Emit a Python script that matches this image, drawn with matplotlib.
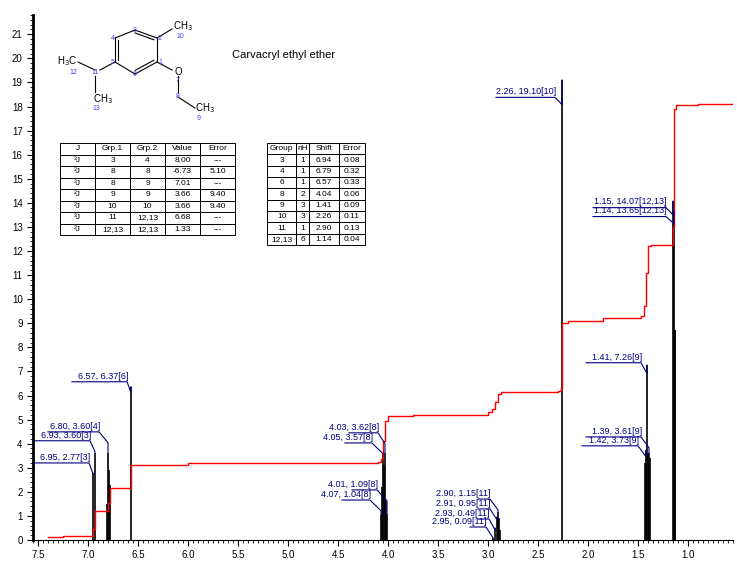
import matplotlib
matplotlib.use("Agg")
import matplotlib.pyplot as plt
import numpy as np
from matplotlib.ticker import MultipleLocator

plt.rcParams['font.family'] = ['Liberation Sans', 'DejaVu Sans']

# Peak lists (shift ppm, intensity)
peak_shift = [6.95, 6.93, 6.81, 6.80, 6.79, 6.78, 6.57,
              4.07, 4.06, 4.05, 4.04, 4.03, 4.02, 4.01,
              2.95, 2.93, 2.91, 2.90, 2.89, 2.88, 2.26,
              1.43, 1.42, 1.41, 1.40, 1.39, 1.38,
              1.15, 1.145, 1.14, 1.135, 1.13]
peak_int = [2.77, 3.60, 1.5, 3.60, 2.9, 2.3, 6.37,
            1.04, 2.2, 3.57, 3.1, 3.62, 1.6, 1.09,
            0.09, 0.49, 0.95, 1.15, 0.9, 0.4, 19.10,
            3.2, 3.73, 7.26, 3.6, 3.61, 3.4,
            14.07, 8.7, 13.65, 8.7, 8.7]

# Integral curve (shift, cumulative value)
int_x = [7.40, 7.25, 6.97, 6.95, 6.93, 6.82, 6.80, 6.78, 6.59, 6.57, 6.00, 4.10, 4.07, 4.05, 4.03, 4.00,
         3.75, 3.00, 2.96, 2.93, 2.90, 2.87, 2.30, 2.27, 2.26, 2.20, 1.85, 1.47, 1.44, 1.42, 1.40, 1.37,
         1.16, 1.15, 1.14, 1.12, 0.90, 0.55]
int_y = [0.12, 0.15, 0.17, 0.45, 1.20, 1.20, 1.55, 2.15, 2.15, 3.10, 3.20, 3.25, 3.35, 4.10, 4.95, 5.15,
         5.20, 5.30, 5.45, 5.75, 6.05, 6.15, 6.20, 6.30, 9.00, 9.10, 9.20, 9.30, 9.70, 11.10, 12.20, 12.25,
         12.25, 13.00, 17.90, 18.05, 18.10, 18.15]

# Labels: text, peak shift, peak height, underline y, underline x-left, x-right (ppm)
labels = [
    ("6.57, 6.37[6]", 6.57, 6.37, 6.57, 7.16, 6.61),
    ("6.80, 3.60[4]", 6.80, 3.60, 4.49, 7.40, 6.89),
    ("6.93, 3.60[3]", 6.93, 3.60, 4.12, 7.55, 6.98),
    ("6.95, 2.77[3]", 6.95, 2.77, 3.20, 7.55, 6.99),
    ("4.03, 3.62[8]", 4.03, 3.62, 4.45, 4.39, 4.10),
    ("4.05, 3.57[8]", 4.05, 3.57, 4.03, 4.43, 4.16),
    ("4.01, 1.09[8]", 4.01, 1.09, 2.08, 4.36, 4.11),
    ("4.07, 1.04[8]", 4.07, 1.04, 1.66, 4.46, 4.18),
    ("2.90, 1.15[11]", 2.90, 1.15, 1.70, 3.10, 2.98),
    ("2.91, 0.95[11]", 2.91, 0.95, 1.29, 3.10, 2.98),
    ("2.93, 0.49[11]", 2.93, 0.49, 0.87, 3.10, 2.99),
    ("2.95, 0.09[11]", 2.95, 0.09, 0.54, 3.18, 3.02),
    ("2.26, 19.10[10]", 2.26, 19.10, 18.38, 2.92, 2.33),
    ("1.15, 14.07[12,13]", 1.15, 14.07, 13.80, 1.95, 1.22),
    ("1.14, 13.65[12,13]", 1.14, 13.65, 13.43, 1.95, 1.22),
    ("1.41, 7.26[9]", 1.41, 7.26, 7.36, 2.02, 1.47),
    ("1.39, 3.61[9]", 1.39, 3.61, 4.28, 2.02, 1.47),
    ("1.42, 3.73[9]", 1.42, 3.73, 3.91, 2.06, 1.50),
]

j_cols = ["J", "Grp.1", "Grp.2", "Value", "Error"]
j_rows = [["³J", "3", "4", "8.00", "---"],
          ["²J", "8", "8", "-6.73", "5.10"],
          ["³J", "8", "9", "7.01", "---"],
          ["²J", "9", "9", "3.66", "9.40"],
          ["²J", "10", "10", "3.66", "9.40"],
          ["³J", "11", "12,13", "6.68", "---"],
          ["²J", "12,13", "12,13", "1.33", "---"]]
s_cols = ["Group", "nH", "Shift", "Error"]
s_rows = [["3", "1", "6.94", "0.08"], ["4", "1", "6.79", "0.32"], ["6", "1", "6.57", "0.33"],
          ["8", "2", "4.04", "0.06"], ["9", "3", "1.41", "0.09"], ["10", "3", "2.26", "0.11"],
          ["11", "1", "2.90", "0.13"], ["12,13", "6", "1.14", "0.04"]]

W, H = 737, 568
fig = plt.figure(figsize=(W/100, H/100), dpi=100)
ax = fig.add_axes([33/W, 1-540/H, 700/W, 525/H])
ax.set_xlim(7.55, 0.55)
ax.set_ylim(0, 21.8)
for s in ['top', 'right']:
    ax.spines[s].set_visible(False)
ax.spines['left'].set_linewidth(2)
ax.xaxis.set_major_locator(MultipleLocator(0.5))
ax.xaxis.set_minor_locator(MultipleLocator(0.05))
ax.yaxis.set_major_locator(MultipleLocator(1))
ax.yaxis.set_minor_locator(MultipleLocator(0.2))
ax.tick_params(labelsize=7, length=4, width=0.8)
ax.tick_params(which='minor', length=2.5)
ax.xaxis.set_major_formatter(matplotlib.ticker.FormatStrFormatter('%.1f'))

ax.vlines(peak_shift, 0, peak_int, color='black', lw=1.2)
ax.plot(int_x, int_y, color='red', lw=1, drawstyle='steps-post')

navy = '#000080'
for txt, px, ph, ly, xl, xr in labels:
    ax.plot([xl, xr, px, px], [ly, ly, ly - 0.45 if ly > ph else ly - 0.3, ph], color=navy, lw=0.8)
    ax.text(xr - 0.01, ly + 0.05, txt, color=navy, fontsize=6.5, ha='right', va='bottom')

def add_table(rect, cols, rows, widths):
    tax = fig.add_axes(rect)
    tax.axis('off')
    t = tax.table(cellText=rows, colLabels=cols, bbox=[0, 0, 1, 1], cellLoc='center', colWidths=widths)
    t.auto_set_font_size(False)
    t.set_fontsize(6)
    for c in t.get_celld().values():
        c.set_linewidth(0.7)

add_table([60/W, 1-235/H, 175/W, 92/H], j_cols, j_rows, [0.2, 0.2, 0.2, 0.2, 0.2])
add_table([267/W, 1-245/H, 98/W, 102/H], s_cols, s_rows, [0.3, 0.13, 0.3, 0.27])

# molecule
mx = fig.add_axes([0, 0, 1, 1], facecolor='none')
mx.set_xlim(0, W); mx.set_ylim(H, 0); mx.axis('off')
ring = {3: (135, 30), 2: (157, 38), 1: (157, 62), 6: (135, 74), 5: (115, 62), 4: (115, 38)}
order = [3, 2, 1, 6, 5, 4, 3]
for a, b in zip(order[:-1], order[1:]):
    mx.plot([ring[a][0], ring[b][0]], [ring[a][1], ring[b][1]], color='black', lw=0.8)
cx, cy = 136, 50
for a, b in [(3, 2), (1, 6), (5, 4)]:
    p = np.array(ring[a]); q = np.array(ring[b])
    p2 = p + (np.array([cx, cy]) - p) * 0.15; q2 = q + (np.array([cx, cy]) - q) * 0.15
    mx.plot([p2[0], q2[0]], [p2[1], q2[1]], color='black', lw=0.8)
bonds = [((157, 38), (172, 29)), ((157, 62), (172, 70)), ((178, 76), (178, 93)),
         ((178, 97), (195, 108)), ((115, 62), (100, 70)), ((95, 70), (78, 62)), ((95, 76), (95, 92))]
for p, q in bonds:
    mx.plot([p[0], q[0]], [p[1], q[1]], color='black', lw=0.8)
blue = '#4444ff'
for n, (x, y) in ring.items():
    mx.text(x + (3 if n in (2, 1) else -2 if n in (4, 5) else 0), y, str(n), color=blue, fontsize=5, ha='center', va='center')
mx.text(173, 26, "CH$_3$", fontsize=7, va='center')
mx.text(180, 38, "10", color=blue, fontsize=5, ha='center')
mx.text(178, 72, "O", fontsize=7, ha='center', va='center')
mx.text(178, 81, "7", color=blue, fontsize=5, ha='center', va='center')
mx.text(178, 96, "8", color=blue, fontsize=5, ha='center', va='center')
mx.text(195, 108, "CH$_3$", fontsize=7, va='center')
mx.text(199, 118, "9", color=blue, fontsize=5, ha='center', va='center')
mx.text(95, 73, "11", color=blue, fontsize=5, ha='center', va='center')
mx.text(77, 61, "H$_3$C", fontsize=7, ha='right', va='center')
mx.text(73, 72, "12", color=blue, fontsize=5, ha='center', va='center')
mx.text(93, 99, "CH$_3$", fontsize=7, va='center')
mx.text(96, 109, "13", color=blue, fontsize=5, ha='center', va='center')
mx.text(232, 55, "Carvacryl ethyl ether", fontsize=8, va='center')

fig.savefig("out.png", dpi=100)
